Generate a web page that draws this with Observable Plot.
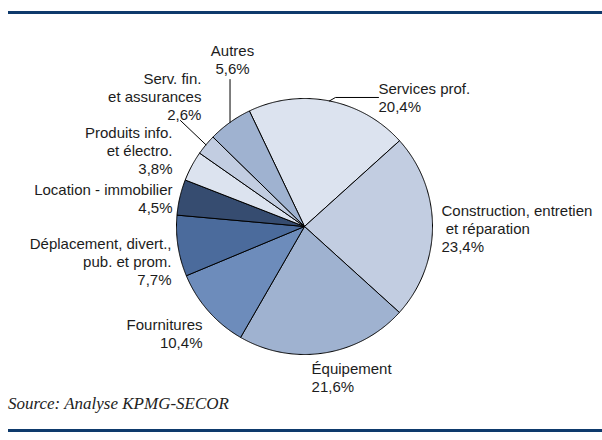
<!DOCTYPE html>
<html><head><meta charset="utf-8">
<script src="https://cdn.jsdelivr.net/npm/d3@7"></script>
<script src="https://cdn.jsdelivr.net/npm/@observablehq/plot@0.6"></script>
<style>
body{margin:0;background:#fff;}
#wrap{position:relative;width:602px;height:440px;overflow:hidden;font-family:"Liberation Sans",Arial,sans-serif;}
.rule{position:absolute;left:8px;right:0;height:3px;background:#0e3a6c;}
#chart{position:absolute;left:0;top:14px;}
#source{position:absolute;left:8px;top:394px;font-family:"Liberation Serif",serif;font-style:italic;font-size:17px;color:#222;white-space:nowrap;}
</style></head><body>
<div id="wrap">
<div class="rule" style="top:11px"></div>
<div id="chart"></div>
<div id="source">Source: Analyse KPMG-SECOR</div>
<div class="rule" style="top:429px"></div>
</div>
<script>
// ---- data ----
const categories = ["Services prof.", "Construction, entretien et réparation", "Équipement", "Fournitures",
  "Déplacement, divert., pub. et prom.", "Location - immobilier", "Produits info. et électro.",
  "Serv. fin. et assurances", "Autres"];
const shares = [20.4, 23.4, 21.6, 10.4, 7.7, 4.5, 3.8, 2.6, 5.6];
const shareLabels = ["20,4%", "23,4%", "21,6%", "10,4%", "7,7%", "4,5%", "3,8%", "2,6%", "5,6%"];
const labelLines = [["Services prof."], ["Construction, entretien", " et réparation"], ["Équipement"], ["Fournitures"],
  ["Déplacement, divert.,", "pub. et prom."], ["Location - immobilier"], ["Produits info.", "et électro."],
  ["Serv. fin.", "et assurances"], ["Autres"]];

// ---- style / layout ----
const palette = ["#dce3ef", "#c2cde1", "#9fb2d0", "#6d8cbb", "#4b6b9c", "#364c70", "#dce3ef", "#c2cde1", "#9fb2d0"];
const W = 602, H = 400, CX = 304, CY = 212, R = 128;
const startDeg = -25.5;
// label anchor positions, in pie-radius units (0,0 = centre, y up)
const labelLayout = [
  {x: 0.578, y: 1.012, anchor: "start", leader: [[0.242, 1.008], [0.578, 1.008]]},
  {x: 1.070, y: -0.016, anchor: "start"},
  {x: 0.055, y: -1.18, anchor: "start"},
  {x: -0.797, y: -0.832, anchor: "end"},
  {x: -1.039, y: -0.268, anchor: "end"},
  {x: -1.031, y: 0.223, anchor: "end"},
  {x: -1.031, y: 0.594, anchor: "end"},
  {x: -0.805, y: 1.018, anchor: "end", leader: [[-0.969, 0.828]]},
  {x: -0.5625, y: 1.305, anchor: "middle", leader: [[null, 1.148]]}
];

// ---- geometry from data ----
const total = d3.sum(shares);
let acc = startDeg * Math.PI / 180;
const slices = categories.map((name, i) => {
  const a0 = acc, a1 = acc + shares[i] / total * 2 * Math.PI;
  acc = a1;
  return {name, a0, a1, mid: (a0 + a1) / 2, i};
});
const pt = (a, r) => ({x: r * Math.sin(a), y: r * Math.cos(a)});
const poly = slices.flatMap(s => {
  const n = Math.max(2, Math.ceil((s.a1 - s.a0) / (Math.PI / 360)));
  const pts = [{name: s.name, x: 0, y: 0}];
  for (let k = 0; k <= n; k++) pts.push({name: s.name, ...pt(s.a0 + (s.a1 - s.a0) * k / n, 1)});
  pts.push({name: s.name, x: 0, y: 0});
  return pts;
});
const leaders = slices.flatMap(s => {
  const L = labelLayout[s.i];
  if (!L.leader) return [];
  const e = pt(s.mid, 1);
  return [{id: s.name, ...e}, ...L.leader.map(([x, y]) => ({id: s.name, x: x == null ? e.x : x, y}))];
});
const labels = slices.map(s => ({
  x: labelLayout[s.i].x, y: labelLayout[s.i].y, anchor: labelLayout[s.i].anchor,
  text: [...labelLines[s.i], shareLabels[s.i]].join("\n")
}));

const textOpts = a => ({x: "x", y: "y", text: "text", textAnchor: a, lineAnchor: "middle",
  fontSize: 15, lineHeight: 1.2, fill: "#1c1c1c"});

const chart = Plot.plot({
  width: W, height: H, margin: 0,
  style: {fontFamily: "'Liberation Sans', Arial, sans-serif", background: "transparent"},
  x: {domain: [-CX / R, (W - CX) / R], axis: null},
  y: {domain: [(CY - H) / R, CY / R], axis: null},
  color: {domain: categories, range: palette},
  marks: [
    Plot.line(poly, {x: "x", y: "y", z: "name", fill: "name", stroke: "#000", strokeWidth: 1, strokeLinejoin: "miter"}),
    Plot.line(leaders, {x: "x", y: "y", z: "id", stroke: "#000", strokeWidth: 1}),
    Plot.text(labels.filter(d => d.anchor === "start"), textOpts("start")),
    Plot.text(labels.filter(d => d.anchor === "end"), textOpts("end")),
    Plot.text(labels.filter(d => d.anchor === "middle"), textOpts("middle"))
  ]
});
document.getElementById("chart").appendChild(chart);
</script>
</body></html>
